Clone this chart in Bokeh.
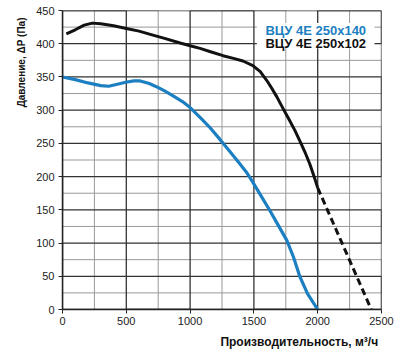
import numpy as np
from bokeh.plotting import figure
from bokeh.models import FixedTicker, Label, BoxAnnotation, Title, Range1d
from bokeh.embed import file_html
from bokeh.resources import INLINE

# Black curve: ВЦУ 4Е 250x102 (solid part)
black_x = [30, 100, 170, 234, 300, 400, 500, 600, 688, 800, 922, 1000, 1078, 1160, 1258, 1340,
           1414, 1492, 1550, 1600, 1640, 1680, 1730, 1781, 1820, 1859, 1900, 1938, 1977, 2000]
black_y = [415, 421, 428, 431, 430, 427, 423, 419, 414, 408, 401, 397, 393, 388, 382, 378,
           374, 367, 358, 345, 333, 320, 302, 284, 270, 254, 237, 219, 197, 183]
# Black dashed extension
dash_x = [2000, 2420]
dash_y = [183, 0]
# Blue curve: ВЦУ 4Е 250x140
blue_x = [0, 100, 200, 300, 362, 430, 495, 560, 609, 680, 740, 800, 870, 940, 1000, 1078, 1150,
          1234, 1310, 1391, 1440, 1484, 1550, 1625, 1690, 1758, 1810, 1859, 1920, 2000]
blue_y = [350, 346, 341, 337, 336, 339, 342, 344, 344, 340, 335, 329, 321, 313, 304, 289, 275,
          256, 238, 219, 207, 194, 173, 149, 127, 104, 79, 50, 24, 0]

x_major = [0, 500, 1000, 1500, 2000, 2500]
x_minor = [250, 750, 1250, 1750, 2250]
y_major = [0, 50, 100, 150, 200, 250, 300, 350, 400, 450]
y_minor = [25, 75, 125, 175, 225, 275, 325, 375, 425]

BLUE = "#1b7fc1"
FONT = "Liberation Sans"

X0, X1 = x_major[0], x_major[-1]
Y0, Y1 = y_major[0], y_major[-1]


def serpentine(ticks, lo, hi):
    """One continuous path across all grid positions (edges overlap frame borders)."""
    a, b = [], []
    for i, t in enumerate(ticks):
        ends = (lo, hi) if i % 2 == 0 else (hi, lo)
        a += [t, t]
        b += list(ends)
    return a, b


p = figure(width=400, height=356, output_backend="svg", toolbar_location=None,
           x_range=Range1d(X0, X1), y_range=Range1d(Y0, Y1),
           min_border_left=62, min_border_right=19, min_border_top=10, min_border_bottom=47)
p.outline_line_color = None
p.xgrid.visible = False
p.ygrid.visible = False

p.xaxis.ticker = FixedTicker(ticks=x_major)
p.yaxis.ticker = FixedTicker(ticks=y_major)
for ax in (p.xaxis[0], p.yaxis[0]):
    ax.axis_line_color = "#222222"
    ax.axis_line_width = 1.5
    ax.major_tick_line_color = "#222222"
    ax.major_tick_out = 4
    ax.major_tick_in = 0
    ax.minor_tick_line_color = None
    ax.major_label_text_font = FONT
    ax.major_label_text_font_size = "11px"
    ax.major_label_text_color = "#222222"
p.xaxis.major_label_standoff = 3
p.yaxis.major_label_standoff = 4

# grid: minor lines first, then major lines (each set as one continuous path)
vx, vy = serpentine(x_minor, Y0, Y1)
p.line(vx, vy, line_color="#999999", line_width=1)
hy, hx = serpentine(y_minor, X0, X1)
p.line(hx, hy, line_color="#999999", line_width=1)
vx, vy = serpentine(x_major, Y0, Y1)
p.line(vx, vy, line_color="#333333", line_width=1.3)
hy, hx = serpentine(y_major, X0, X1)
p.line(hx, hy, line_color="#333333", line_width=1.3)

p.line(blue_x, blue_y, line_color=BLUE, line_width=3.2, line_join="round")
p.line(black_x, black_y, line_color="#111111", line_width=3, line_join="round")
p.line(dash_x, dash_y, line_color="#111111", line_width=3, line_dash="7 4")

box = BoxAnnotation(left=1523, right=2445, bottom=393, top=431, fill_color="white",
                    fill_alpha=1, line_color=None)
p.add_layout(box)
p.add_layout(Label(x=1590, y=420, text="ВЦУ 4Е 250x140", text_color=BLUE,
                   text_font=FONT, text_font_style="bold", text_font_size="13px",
                   text_baseline="middle"))
p.add_layout(Label(x=1590, y=400, text="ВЦУ 4Е 250x102", text_color="#111111",
                   text_font=FONT, text_font_style="bold", text_font_size="13px",
                   text_baseline="middle"))

p.add_layout(Title(text="Производительность,  м³/ч", align="right", text_font=FONT,
                   text_font_style="bold", text_font_size="12px", text_color="#111111",
                   offset=0), "below")
p.add_layout(Title(text="Давление, ΔР (Па)", align="right", text_font=FONT,
                   text_font_style="bold", text_font_size="10px", text_color="#111111",
                   offset=7, standoff=14), "left")

open("out.html", "w").write(file_html(p, INLINE))
